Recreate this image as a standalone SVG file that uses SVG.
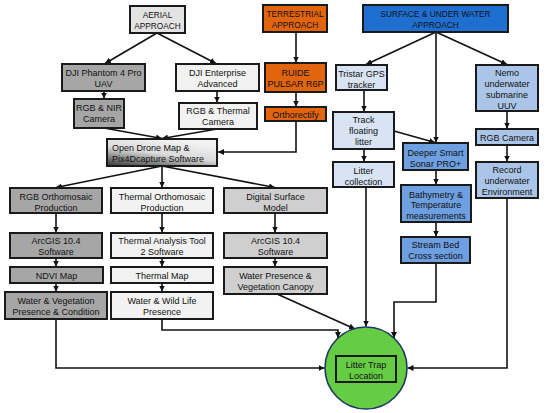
<svg xmlns="http://www.w3.org/2000/svg" width="550" height="413" viewBox="0 0 550 413">
<defs>
<marker id="ah" markerUnits="userSpaceOnUse" markerWidth="7" markerHeight="6" refX="6" refY="3" orient="auto">
<path d="M0,0 L6,3 L0,6 z" fill="#111"/>
</marker>
<linearGradient id="odmg" x1="0" y1="1" x2="0.55" y2="0">
<stop offset="0" stop-color="#333"/>
<stop offset="0.55" stop-color="#dadada"/>
<stop offset="1" stop-color="#f2f2f2"/>
</linearGradient>
<style>
rect{stroke:#1a1a1a;stroke-width:2}
text{font-family:"Liberation Sans",Arial,sans-serif;font-size:9px;fill:#111;text-anchor:middle}
.cap{font-size:8.3px}
.dg{fill:#a6a6a6}
.lg{fill:#f2f2f2}
.mg{fill:#cfcfcf}
.ag{fill:#e3e3e3}
.or{fill:#e2650e}
.sb{fill:#1f6fd1}
.lb{fill:#d8e3f4}
.mb{fill:#6e9fe0}
.nb{fill:#abc5e8}
.conn path{fill:none;stroke:#111;stroke-width:1.6;marker-end:url(#ah)}
</style>
</defs>
<g class="conn" id="connectors">
<path d="M157,33 L105,63.5"/>
<path d="M157,33 L216,63.5"/>
<path d="M104,91 L104,98.5"/>
<path d="M217,91 L217,102.5"/>
<path d="M296,32 L296,62.5"/>
<path d="M296,92 L296,106.5"/>
<path d="M104,128 L162,138.5"/>
<path d="M217,129 L162,138.5"/>
<path d="M296,121 L296,152 L218,152"/>
<path d="M162,166 L56,187.5"/>
<path d="M162,166 L162,187.5"/>
<path d="M162,166 L275,187.5"/>
<path d="M56,213 L56,232.5"/>
<path d="M56,258 L56,266.5"/>
<path d="M56,283 L56,291.5"/>
<path d="M162,213 L162,232.5"/>
<path d="M162,258 L162,266.5"/>
<path d="M162,283 L162,291.5"/>
<path d="M275,213 L275,232.5"/>
<path d="M275,258 L275,266.5"/>
<path d="M56,319 L56,368 L324.5,368"/>
<path d="M162,319 L162,330 L338,330 L338,338"/>
<path d="M277,294 L355,329"/>
<path d="M436,32 L366,64.5"/>
<path d="M436,32 L507,64.5"/>
<path d="M436,32 L436,142.5"/>
<path d="M364,90 L364,111.5"/>
<path d="M394,131 L435,142.5"/>
<path d="M364,149 L364,161.5"/>
<path d="M436,170 L436,184.5"/>
<path d="M436,222 L436,236.5"/>
<path d="M507,111 L507,128.5"/>
<path d="M507,145 L507,161.5"/>
<path d="M366,187 L366,326.5"/>
<path d="M436,263 L436,302 L394,302 L394,338"/>
<path d="M507,198 L507,368 L407.5,368"/>
</g>
<g id="aerial"><rect class="ag" x="130" y="6" width="55" height="27"/><text class="cap" x="157.5" y="17.5">AERIAL</text><text class="cap" x="157.5" y="28.5">APPROACH</text></g>
<g id="terrestrial"><rect class="or" x="263" y="5" width="64" height="27"/><text class="cap" x="295" y="16.5">TERRESTRIAL</text><text class="cap" x="295" y="27.5">APPROACH</text></g>
<g id="surface"><rect class="sb" x="363" y="5" width="145" height="27"/><text class="cap" x="435.5" y="16.5">SURFACE &amp; UNDER WATER</text><text class="cap" x="435.5" y="27.5">APPROACH</text></g>
<g id="phantom"><rect class="dg" x="62" y="64" width="83" height="27"/><text x="103.5" y="75.5">DJI Phantom 4 Pro</text><text x="103.5" y="86.5">UAV</text></g>
<g id="enterprise"><rect class="lg" x="176" y="64" width="83" height="27"/><text x="217.5" y="75.5">DJI Enterprise</text><text x="217.5" y="86.5">Advanced</text></g>
<g id="rgbnir"><rect class="dg" x="74" y="99" width="50" height="29"/><text x="99" y="110.5">RGB &amp; NIR</text><text x="99" y="121.5">Camera</text></g>
<g id="rgbthermal"><rect class="lg" x="179" y="103" width="78" height="26"/><text x="218" y="113.5">RGB &amp; Thermal</text><text x="218" y="124.5">Camera</text></g>
<g id="ruide"><rect class="or" x="265" y="63" width="61" height="29"/><text x="295.5" y="75.5">RUIDE</text><text x="295.5" y="86.5">PULSAR R6P</text></g>
<g id="orthorectify"><rect class="or" x="265" y="107" width="61" height="14"/><text x="295.5" y="117.5">Orthorectify</text></g>
<g id="odm"><rect fill="url(#odmg)" x="107" y="139" width="110" height="27"/><text x="112" y="150.5" style="text-anchor:start">Open Drone Map &amp;</text><text x="112" y="161.5" style="text-anchor:start">Pix4Dcapture Software</text></g>
<g id="rgbortho"><rect class="dg" x="10" y="188" width="92" height="25"/><text x="56" y="199.5">RGB Orthomosaic</text><text x="56" y="210.5">Production</text></g>
<g id="thermortho"><rect class="lg" x="111" y="188" width="102" height="25"/><text x="162" y="199.5">Thermal Orthomosaic</text><text x="162" y="210.5">Production</text></g>
<g id="dsm"><rect class="mg" x="224" y="188" width="103" height="25"/><text x="275.5" y="199.5">Digital Surface</text><text x="275.5" y="210.5">Model</text></g>
<g id="arcgis1"><rect class="dg" x="10" y="233" width="92" height="25"/><text x="56" y="244">ArcGIS 10.4</text><text x="56" y="255">Software</text></g>
<g id="thermanalysis"><rect class="lg" x="111" y="233" width="102" height="25"/><text x="162" y="244">Thermal Analysis Tool</text><text x="162" y="255">2 Software</text></g>
<g id="arcgis2"><rect class="mg" x="224" y="233" width="103" height="25"/><text x="275.5" y="244">ArcGIS 10.4</text><text x="275.5" y="255">Software</text></g>
<g id="ndvi"><rect class="dg" x="10" y="267" width="93" height="16"/><text x="56.5" y="278.5">NDVI Map</text></g>
<g id="thermmap"><rect class="lg" x="111" y="267" width="102" height="16"/><text x="162" y="278.5">Thermal Map</text></g>
<g id="waterveg"><rect class="dg" x="5" y="292" width="102" height="27"/><text x="56" y="303.5">Water &amp; Vegetation</text><text x="56" y="314.5">Presence &amp; Condition</text></g>
<g id="waterwild"><rect class="lg" x="111" y="292" width="102" height="27"/><text x="162" y="303.5">Water &amp; Wild Life</text><text x="162" y="314.5">Presence</text></g>
<g id="waterpres"><rect class="mg" x="224" y="267" width="103" height="27"/><text x="275.5" y="278.5">Water Presence &amp;</text><text x="275.5" y="289.5">Vegetation Canopy</text></g>
<g id="tristar"><rect class="lb" x="336" y="65" width="51" height="25"/><text x="361.5" y="77">Tristar GPS</text><text x="361.5" y="88">tracker</text></g>
<g id="track"><rect class="lb" x="333" y="112" width="61" height="37"/><text x="363.5" y="122.5">Track</text><text x="363.5" y="134">floating</text><text x="363.5" y="145">litter</text></g>
<g id="littercoll"><rect class="lb" x="333" y="162" width="61" height="25"/><text x="363.5" y="173.5">Litter</text><text x="363.5" y="184.5">collection</text></g>
<g id="deeper"><rect class="mb" x="403" y="143" width="65" height="27"/><text x="435.5" y="155.5">Deeper Smart</text><text x="435.5" y="166.5">Sonar PRO+</text></g>
<g id="bathy"><rect class="mb" x="401" y="185" width="70" height="37"/><text x="436" y="197.5">Bathymetry &amp;</text><text x="436" y="208">Temperature</text><text x="436" y="218.5">measurements</text></g>
<g id="streambed"><rect class="mb" x="401" y="237" width="69" height="26"/><text x="435.5" y="247.5">Stream Bed</text><text x="435.5" y="259">Cross section</text></g>
<g id="nemo"><rect class="nb" x="476" y="65" width="62" height="46"/><text x="507" y="76">Nemo</text><text x="507" y="87">underwater</text><text x="507" y="98">submarine</text><text x="507" y="108.5">UUV</text></g>
<g id="rgbcam"><rect class="nb" x="476" y="129" width="62" height="16"/><text x="507" y="140.5">RGB Camera</text></g>
<g id="record"><rect class="nb" x="476" y="162" width="62" height="36"/><text x="507" y="172.5">Record</text><text x="507" y="183.5">underwater</text><text x="507" y="194.5">Environment</text></g>
<g id="littertrap"><circle cx="366" cy="368" r="41" fill="#66cc44" stroke="#1f3864" stroke-width="1.6"/><rect x="336" y="356" width="60" height="26" fill="none"/><text x="366" y="367.5">Litter Trap</text><text x="366" y="378.5">Location</text></g>
</svg>
